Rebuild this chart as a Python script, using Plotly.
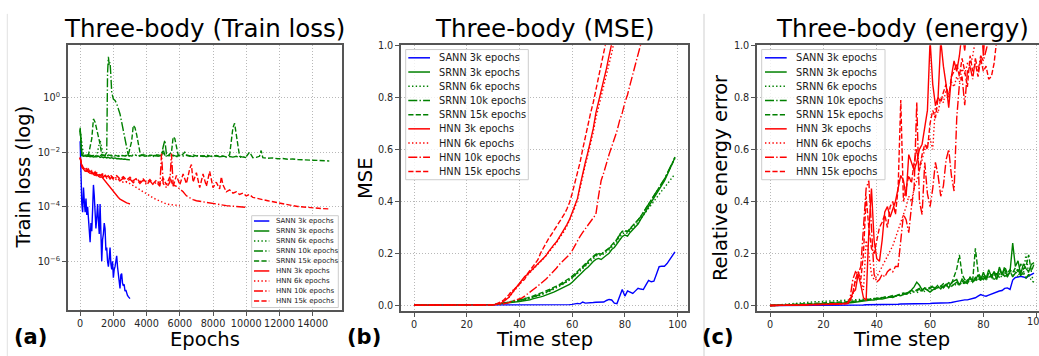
import plotly.graph_objects as go

W, H = 1039, 356
FONT = "DejaVu Sans"

# ---------------------------------------------------------------------------
# Series styling (shared by the three panels)
# ---------------------------------------------------------------------------
LABELS = ["SANN 3k epochs", "SRNN 3k epochs", "SRNN 6k epochs", "SRNN 10k epochs",
          "SRNN 15k epochs", "HNN 3k epochs", "HNN 6k epochs", "HNN 10k epochs",
          "HNN 15k epochs"]
COLORS = ["#0000ff", "#008000", "#008000", "#008000", "#008000",
          "#ff0000", "#ff0000", "#ff0000", "#ff0000"]
DASHES = ["solid", "solid", "1.4px,2.3px", "9px,2.2px,1.4px,2.2px", "5.2px,2.2px",
          "solid", "1.4px,2.3px", "9px,2.2px,1.4px,2.2px", "5.2px,2.2px"]
LW = 1.4

# ---------------------------------------------------------------------------
# (a) training loss: (epoch, log10 of loss)
# ---------------------------------------------------------------------------
SANN_3K = [(0, -1.6), (50, -3.0), (100, -3.9), (150, -4.2), (200, -3.3), (250, -3.8),
           (300, -4.2), (350, -3.7), (400, -4.3), (450, -4.0), (500, -4.6), (550, -5.0),
           (600, -5.3), (650, -4.6), (700, -4.9), (750, -4.1), (800, -3.2), (850, -3.6),
           (900, -4.5), (950, -4.8), (1000, -4.4), (1050, -3.9), (1100, -4.5), (1150, -5.0),
           (1200, -3.9), (1250, -5.0), (1300, -6.0), (1350, -5.2), (1400, -5.0), (1450, -4.6),
           (1500, -4.8), (1550, -5.6), (1600, -5.5), (1650, -6.0), (1700, -6.2), (1750, -5.9),
           (1800, -5.5), (1850, -6.1), (1900, -6.3), (1950, -6.0), (2000, -6.6), (2050, -6.3),
           (2100, -6.2), (2150, -6.0), (2200, -5.8), (2250, -6.2), (2300, -6.5), (2350, -6.7),
           (2400, -7.0), (2450, -6.5), (2500, -6.45), (2550, -6.8), (2600, -6.9), (2650, -6.85),
           (2700, -7.1), (2750, -7.05), (2800, -7.2), (2850, -7.25), (2900, -7.3), (2950, -7.32),
           (3000, -7.37)]

SRNN_3K = [(0, -1.1), (100, -2.12), (200, -2.15), (300, -2.13), (400, -2.16), (500, -2.14),
           (600, -2.17), (700, -2.15), (800, -2.18), (900, -2.16), (1000, -2.17), (1100, -2.14),
           (1200, -2.19), (1300, -2.17), (1400, -2.2), (1500, -2.18), (1600, -2.21), (1700, -2.19),
           (1800, -2.22), (1900, -2.2), (2000, -2.23), (2100, -2.21), (2200, -2.24), (2300, -2.23),
           (2400, -2.25), (2500, -2.24), (2600, -2.26), (2700, -2.25), (2800, -2.27), (2900, -2.27),
           (3000, -2.28)]

SRNN_6K = [(0, -1.2), (200, -2.1), (400, -2.13), (600, -2.1), (800, -2.15), (1000, -2.12),
           (1200, -1.55), (1400, -2.12), (1600, -2.14), (1800, -2.1), (2000, -2.13), (2200, -2.15),
           (2400, -2.11), (2600, -2.14), (2800, -2.12), (3000, -2.15), (3200, -2.1), (3400, -2.13),
           (3600, -2.15), (3800, -2.08), (4000, -2.14), (4200, -2.12), (4400, -2.16), (4600, -2.1),
           (4800, -2.14), (5000, -2.05), (5200, -2.15), (5400, -2.12), (5600, -2.14), (5800, -2.16),
           (6000, -2.15)]

SRNN_10K = [(0, -1.15), (100, -2.1), (300, -2.12), (500, -2.1), (700, -2.13), (900, -2.11),
            (1100, -2.14), (1300, -2.1), (1500, -2.12), (1600, -2.0), (1650, 0.9), (1700, 1.5),
            (1750, 1.2), (1800, 1.3), (1850, 0.8), (1900, 0.2), (2000, -0.05), (2100, -0.1),
            (2200, -0.22), (2300, -0.4), (2400, -0.6), (2500, -0.9), (2600, -1.2), (2700, -1.55),
            (2800, -1.9), (2900, -2.12), (3100, -2.14), (3300, -2.1), (3500, -2.13), (3700, -2.11),
            (3900, -2.15), (4100, -2.1), (4300, -2.13), (4500, -2.12), (4700, -2.15), (4900, -2.1),
            (5000, -1.8), (5100, -1.56), (5200, -2.1), (5400, -2.13), (5600, -2.11), (5800, -2.15),
            (6000, -2.12), (6200, -2.14), (6400, -2.1), (6600, -2.13), (6800, -2.16), (7000, -2.12),
            (7200, -2.15), (7400, -2.13), (7600, -2.17), (7800, -2.14), (8000, -2.16), (8200, -2.13),
            (8400, -2.17), (8600, -2.15), (8800, -2.18), (9000, -2.16), (9200, -2.18), (9400, -2.15),
            (9600, -2.19), (9800, -2.17), (10000, -2.2)]

SRNN_15K = [(0, -1.2), (100, -2.1), (300, -2.12), (500, -2.1), (700, -1.5), (800, -0.78),
            (900, -0.9), (1000, -1.15), (1100, -1.4), (1200, -1.7), (1300, -2.1), (1500, -2.13),
            (1700, -2.1), (1900, -2.14), (2100, -2.11), (2300, -2.15), (2500, -2.12), (2700, -2.14),
            (2900, -2.1), (3100, -1.6), (3200, -1.02), (3300, -1.1), (3400, -1.35), (3500, -1.7),
            (3600, -2.0), (3700, -2.12), (3900, -2.1), (4100, -2.14), (4300, -2.11), (4500, -2.13),
            (4700, -2.1), (4900, -2.14), (5000, -1.9), (5100, -2.12), (5300, -2.13), (5500, -2.0),
            (5600, -1.44), (5700, -1.5), (5800, -1.8), (5900, -2.1), (6100, -2.13), (6300, -2.0),
            (6400, -2.12), (6600, -2.15), (6800, -2.1), (7000, -2.14), (7200, -2.12), (7400, -2.16),
            (7600, -2.1), (7800, -2.14), (8000, -2.15), (8200, -2.12), (8400, -2.16), (8600, -2.14),
            (8800, -2.17), (9000, -2.1), (9100, -1.6), (9200, -1.1), (9300, -0.94), (9400, -1.3),
            (9500, -1.8), (9600, -2.15), (9800, -2.18), (10000, -2.16), (10200, -2.0), (10400, -2.2),
            (10600, -2.19), (10800, -2.15), (10900, -1.94), (11000, -2.2), (11300, -2.22),
            (11600, -2.21), (11900, -2.24), (12200, -2.23), (12500, -2.26), (12800, -2.25),
            (13100, -2.27), (13400, -2.28), (13700, -2.29), (14000, -2.3), (14300, -2.3),
            (14600, -2.31), (15000, -2.32)]

HNN_3K = [(0, -2.2), (50, -2.5), (100, -2.55), (200, -2.62), (300, -2.7), (400, -2.68),
          (500, -2.75), (600, -2.78), (700, -2.74), (800, -2.82), (900, -2.85), (1000, -2.8),
          (1100, -2.88), (1200, -2.92), (1300, -2.9), (1400, -2.98), (1500, -3.05), (1600, -3.12),
          (1700, -3.22), (1800, -3.3), (1900, -3.38), (2000, -3.46), (2100, -3.54), (2200, -3.6),
          (2300, -3.66), (2400, -3.72), (2500, -3.76), (2600, -3.8), (2700, -3.83), (2800, -3.86),
          (2900, -3.88), (3000, -3.9)]

HNN_6K = [(0, -2.2), (100, -2.55), (200, -2.6), (400, -2.72), (600, -2.7), (800, -2.8),
          (1000, -2.78), (1200, -2.86), (1400, -2.84), (1600, -2.92), (1800, -2.9), (2000, -2.98),
          (2200, -3.0), (2400, -3.05), (2600, -3.1), (2800, -3.08), (3000, -3.15), (3200, -3.25),
          (3400, -3.3), (3600, -3.38), (3800, -3.45), (4000, -3.52), (4200, -3.6), (4400, -3.68),
          (4600, -3.74), (4800, -3.8), (5000, -3.85), (5200, -3.9), (5400, -3.92), (5600, -3.94),
          (5800, -3.95), (6000, -3.96)]

HNN_10K = [(0, -2.2), (100, -2.5), (200, -2.6), (300, -2.55), (400, -2.7), (500, -2.62),
           (600, -2.75), (700, -2.68), (800, -2.8), (900, -2.72), (1000, -2.85), (1100, -2.78),
           (1200, -2.9), (1300, -2.8), (1400, -2.92), (1500, -2.85), (1600, -2.95), (1700, -2.88),
           (1800, -2.98), (1900, -2.9), (2000, -3.0), (2200, -2.92), (2400, -3.05), (2600, -2.95),
           (2800, -3.1), (3000, -2.98), (3200, -3.12), (3400, -3.0), (3600, -3.15), (3800, -3.02),
           (4000, -3.2), (4200, -3.05), (4400, -3.2), (4600, -3.1), (4800, -3.25), (4900, -2.05),
           (5000, -3.15), (5200, -3.3), (5400, -3.1), (5500, -2.05), (5600, -3.2), (5800, -3.25),
           (6000, -3.35), (6200, -3.45), (6400, -3.6), (6600, -3.68), (6800, -3.74), (7000, -3.78),
           (7200, -3.8), (7600, -3.85), (8000, -3.9), (8400, -3.93), (8800, -3.96), (9200, -3.98),
           (9600, -4.0), (10000, -4.02)]

HNN_15K = [(0, -2.2), (100, -2.45), (200, -2.58), (300, -2.65), (400, -2.6), (500, -2.72),
           (600, -2.66), (700, -2.78), (800, -2.7), (900, -2.82), (1000, -2.75), (1200, -2.85),
           (1400, -2.78), (1600, -2.9), (1800, -2.82), (2000, -2.95), (2200, -2.86), (2400, -2.98),
           (2600, -2.9), (2800, -3.02), (3000, -2.92), (3200, -3.05), (3400, -2.95), (3600, -3.1),
           (3800, -2.98), (4000, -3.12), (4200, -3.0), (4400, -3.15), (4600, -3.02), (4800, -3.18),
           (5000, -2.95), (5200, -3.2), (5400, -2.9), (5600, -3.25), (5800, -2.85), (6000, -3.2),
           (6200, -2.8), (6400, -3.15), (6600, -2.6), (6700, -2.45), (6800, -3.1), (7000, -2.75),
           (7200, -3.3), (7400, -2.8), (7600, -3.25), (7800, -2.7), (8000, -3.3), (8200, -3.1),
           (8400, -3.35), (8500, -2.9), (8600, -3.2), (8800, -3.45), (9000, -3.38), (9200, -3.5),
           (9400, -3.45), (9600, -3.55), (9800, -3.5), (10000, -3.6), (10200, -3.55),
           (10400, -3.66), (10600, -3.68), (10800, -3.72), (11000, -3.74), (11300, -3.78),
           (11600, -3.82), (11900, -3.85), (12200, -3.88), (12500, -3.92), (12800, -3.96),
           (13100, -3.99), (13400, -4.01), (13700, -4.03), (14000, -4.05), (14300, -4.06),
           (14600, -4.07), (15000, -4.08)]

LOSS_SERIES = [SANN_3K, SRNN_3K, SRNN_6K, SRNN_10K, SRNN_15K, HNN_3K, HNN_6K, HNN_10K, HNN_15K]

# ---------------------------------------------------------------------------
# (b) MSE per time step (index = time step)
# ---------------------------------------------------------------------------
SANN_3K_MSE = [
    0.0, 0.0, 0.0, 0.0, 0.0, 0.0, 0.0, 0.0, 0.0, 0.0,
    0.0, 0.0, 0.0, 0.0, 0.0, 0.0, 0.0, 0.0, 0.0, 0.0,
    0.0, 0.0, 0.0, 0.0, 0.0, 0.0, 0.0, 0.0, 0.0, 0.0,
    0.0, 0.0, 0.0, 0.0, 0.0, 0.0, 0.0, 0.0, 0.0, 0.0,
    0.0, 0.0, 0.0, 0.0, 0.0, 0.0, 0.0, 0.0, 0.0, 0.0,
    0.0, 0.0, 0.0, 0.0, 0.0, 0.0, 0.001, 0.001, 0.002, 0.002,
    0.003, 0.005, 0.007, 0.005, 0.012, 0.008, 0.008, 0.009, 0.010, 0.011,
    0.012, 0.012, 0.012, 0.018, 0.022, 0.020, 0.008, 0.006, 0.030, 0.060,
    0.035, 0.055, 0.050, 0.045, 0.055, 0.065, 0.062, 0.060, 0.078, 0.095,
    0.090, 0.092, 0.120, 0.148, 0.150, 0.150, 0.160, 0.175, 0.190, 0.205]

SRNN_3K_MSE = [
    0.0, 0.0, 0.0, 0.0, 0.0, 0.0, 0.0, 0.0, 0.0, 0.0,
    0.0, 0.0, 0.0, 0.0, 0.0, 0.0, 0.0, 0.0, 0.0, 0.0,
    0.0, 0.0, 0.0, 0.0, 0.0, 0.0, 0.0, 0.0, 0.001, 0.001,
    0.002, 0.003, 0.004, 0.005, 0.006, 0.007, 0.008, 0.010, 0.011, 0.012,
    0.014, 0.016, 0.017, 0.019, 0.021, 0.024, 0.026, 0.029, 0.032, 0.035,
    0.038, 0.042, 0.046, 0.050, 0.055, 0.060, 0.064, 0.070, 0.076, 0.080,
    0.088, 0.100, 0.108, 0.118, 0.130, 0.138, 0.146, 0.158, 0.168, 0.176,
    0.180, 0.176, 0.186, 0.192, 0.200, 0.214, 0.222, 0.236, 0.254, 0.264,
    0.270, 0.266, 0.280, 0.292, 0.300, 0.312, 0.330, 0.346, 0.362, 0.380,
    0.396, 0.412, 0.428, 0.444, 0.460, 0.478, 0.500, 0.520, 0.545, 0.568]

SRNN_6K_MSE = [
    0.0, 0.0, 0.0, 0.0, 0.0, 0.0, 0.0, 0.0, 0.0, 0.0,
    0.0, 0.0, 0.0, 0.0, 0.0, 0.0, 0.0, 0.0, 0.0, 0.0,
    0.0, 0.0, 0.0, 0.0, 0.0, 0.0, 0.0, 0.0, 0.001, 0.001,
    0.002, 0.003, 0.005, 0.006, 0.007, 0.009, 0.010, 0.012, 0.013, 0.015,
    0.017, 0.019, 0.021, 0.023, 0.026, 0.029, 0.032, 0.035, 0.039, 0.043,
    0.047, 0.051, 0.056, 0.061, 0.066, 0.071, 0.077, 0.083, 0.090, 0.097,
    0.104, 0.112, 0.122, 0.132, 0.142, 0.150, 0.160, 0.170, 0.180, 0.188,
    0.194, 0.190, 0.198, 0.204, 0.212, 0.222, 0.232, 0.244, 0.262, 0.274,
    0.280, 0.276, 0.288, 0.298, 0.306, 0.318, 0.332, 0.346, 0.360, 0.374,
    0.388, 0.400, 0.414, 0.428, 0.440, 0.452, 0.466, 0.480, 0.492, 0.505]

SRNN_10K_MSE = [
    0.0, 0.0, 0.0, 0.0, 0.0, 0.0, 0.0, 0.0, 0.0, 0.0,
    0.0, 0.0, 0.0, 0.0, 0.0, 0.0, 0.0, 0.0, 0.0, 0.0,
    0.0, 0.0, 0.0, 0.0, 0.0, 0.0, 0.0, 0.0, 0.001, 0.001,
    0.002, 0.003, 0.004, 0.006, 0.007, 0.009, 0.011, 0.013, 0.015, 0.016,
    0.018, 0.020, 0.022, 0.025, 0.028, 0.031, 0.034, 0.037, 0.041, 0.045,
    0.049, 0.054, 0.058, 0.063, 0.068, 0.074, 0.080, 0.086, 0.092, 0.098,
    0.106, 0.116, 0.126, 0.136, 0.146, 0.156, 0.166, 0.176, 0.186, 0.194,
    0.198, 0.194, 0.204, 0.210, 0.218, 0.228, 0.238, 0.252, 0.270, 0.282,
    0.286, 0.282, 0.294, 0.304, 0.314, 0.326, 0.340, 0.356, 0.372, 0.390,
    0.406, 0.422, 0.436, 0.452, 0.468, 0.486, 0.506, 0.526, 0.548, 0.570]

SRNN_15K_MSE = [
    0.0, 0.0, 0.0, 0.0, 0.0, 0.0, 0.0, 0.0, 0.0, 0.0,
    0.0, 0.0, 0.0, 0.0, 0.0, 0.0, 0.0, 0.0, 0.0, 0.0,
    0.0, 0.0, 0.0, 0.0, 0.0, 0.0, 0.0, 0.0, 0.001, 0.001,
    0.002, 0.004, 0.005, 0.007, 0.008, 0.010, 0.012, 0.014, 0.016, 0.018,
    0.020, 0.022, 0.025, 0.028, 0.031, 0.034, 0.038, 0.042, 0.046, 0.050,
    0.054, 0.058, 0.063, 0.068, 0.073, 0.078, 0.084, 0.090, 0.096, 0.104,
    0.112, 0.120, 0.130, 0.140, 0.150, 0.160, 0.168, 0.178, 0.188, 0.196,
    0.200, 0.196, 0.206, 0.212, 0.220, 0.230, 0.240, 0.254, 0.272, 0.284,
    0.288, 0.284, 0.296, 0.306, 0.316, 0.328, 0.342, 0.358, 0.374, 0.390,
    0.404, 0.420, 0.436, 0.450, 0.466, 0.484, 0.504, 0.524, 0.546, 0.565]

HNN_3K_MSE = [
    0.0, 0.0, 0.0, 0.0, 0.0, 0.0, 0.0, 0.0, 0.0, 0.0,
    0.0, 0.0, 0.0, 0.0, 0.0, 0.0, 0.0, 0.0, 0.0, 0.0,
    0.0, 0.0, 0.0, 0.0, 0.0, 0.0, 0.0, 0.0, 0.0, 0.0,
    0.001, 0.003, 0.005, 0.008, 0.014, 0.022, 0.030, 0.045, 0.058, 0.070,
    0.080, 0.095, 0.110, 0.118, 0.128, 0.140, 0.150, 0.160, 0.170, 0.180,
    0.190, 0.205, 0.220, 0.232, 0.243, 0.260, 0.275, 0.290, 0.310, 0.330,
    0.355, 0.380, 0.410, 0.460, 0.510, 0.550, 0.590, 0.630, 0.680, 0.740,
    0.780, 0.820, 0.870, 0.910, 0.960, 1.010, 1.060, 1.100]

HNN_6K_MSE = [
    0.0, 0.0, 0.0, 0.0, 0.0, 0.0, 0.0, 0.0, 0.0, 0.0,
    0.0, 0.0, 0.0, 0.0, 0.0, 0.0, 0.0, 0.0, 0.0, 0.0,
    0.0, 0.0, 0.0, 0.0, 0.0, 0.0, 0.0, 0.0, 0.0, 0.0,
    0.001, 0.003, 0.005, 0.009, 0.015, 0.022, 0.030, 0.042, 0.055, 0.068,
    0.078, 0.092, 0.106, 0.115, 0.125, 0.137, 0.148, 0.158, 0.168, 0.178,
    0.190, 0.202, 0.215, 0.228, 0.240, 0.256, 0.270, 0.285, 0.305, 0.325,
    0.350, 0.375, 0.405, 0.450, 0.500, 0.540, 0.580, 0.620, 0.665, 0.720,
    0.760, 0.800, 0.850, 0.890, 0.930, 0.970, 1.020, 1.070, 1.120]

HNN_10K_MSE = [
    0.0, 0.0, 0.0, 0.0, 0.0, 0.0, 0.0, 0.0, 0.0, 0.0,
    0.0, 0.0, 0.0, 0.0, 0.0, 0.0, 0.0, 0.0, 0.0, 0.0,
    0.0, 0.0, 0.0, 0.0, 0.0, 0.0, 0.0, 0.0, 0.0, 0.0,
    0.0, 0.001, 0.002, 0.003, 0.005, 0.007, 0.010, 0.015, 0.018, 0.020,
    0.024, 0.028, 0.035, 0.042, 0.050, 0.058, 0.066, 0.074, 0.082, 0.090,
    0.100, 0.110, 0.120, 0.130, 0.142, 0.155, 0.165, 0.175, 0.185, 0.195,
    0.210, 0.230, 0.250, 0.265, 0.280, 0.295, 0.310, 0.325, 0.340, 0.350,
    0.420, 0.480, 0.510, 0.550, 0.580, 0.610, 0.640, 0.670, 0.710, 0.740,
    0.780, 0.810, 0.850, 0.890, 0.930, 0.970, 1.000, 1.040, 1.080]

HNN_15K_MSE = [
    0.0, 0.0, 0.0, 0.0, 0.0, 0.0, 0.0, 0.0, 0.0, 0.0,
    0.0, 0.0, 0.0, 0.0, 0.0, 0.0, 0.0, 0.0, 0.0, 0.0,
    0.0, 0.0, 0.0, 0.0, 0.0, 0.0, 0.0, 0.0, 0.0, 0.0,
    0.002, 0.004, 0.008, 0.013, 0.020, 0.030, 0.040, 0.055, 0.060, 0.072,
    0.082, 0.090, 0.100, 0.120, 0.135, 0.150, 0.160, 0.175, 0.200, 0.220,
    0.240, 0.255, 0.270, 0.285, 0.300, 0.315, 0.330, 0.350, 0.370, 0.395,
    0.430, 0.470, 0.500, 0.550, 0.600, 0.650, 0.690, 0.740, 0.780, 0.830,
    0.880, 0.920, 0.970, 1.020, 1.070]

MSE_SERIES = [SANN_3K_MSE, SRNN_3K_MSE, SRNN_6K_MSE, SRNN_10K_MSE, SRNN_15K_MSE,
              HNN_3K_MSE, HNN_6K_MSE, HNN_10K_MSE, HNN_15K_MSE]

# ---------------------------------------------------------------------------
# (c) relative energy error per time step
# ---------------------------------------------------------------------------
SANN_3K_ENERGY = [
    0.0, 0.0, 0.0, 0.0, 0.0, 0.0, 0.0, 0.0, 0.0, 0.0,
    0.0, 0.0, 0.0, 0.0, 0.0, 0.0, 0.0, 0.0, 0.0, 0.0,
    0.001, 0.001, 0.001, 0.001, 0.001, 0.001, 0.001, 0.001, 0.001, 0.001,
    0.001, 0.001, 0.002, 0.002, 0.002, 0.002, 0.003, 0.003, 0.003, 0.003,
    0.003, 0.004, 0.004, 0.004, 0.004, 0.005, 0.005, 0.005, 0.005, 0.006,
    0.006, 0.006, 0.006, 0.007, 0.007, 0.007, 0.007, 0.008, 0.008, 0.008,
    0.008, 0.009, 0.009, 0.009, 0.010, 0.010, 0.011, 0.011, 0.012, 0.013,
    0.016, 0.018, 0.021, 0.022, 0.022, 0.024, 0.026, 0.030, 0.036, 0.042,
    0.038, 0.036, 0.040, 0.044, 0.050, 0.052, 0.056, 0.058, 0.066, 0.068,
    0.062, 0.098, 0.108, 0.110, 0.112, 0.110, 0.106, 0.114, 0.120, 0.125]

SRNN_3K_ENERGY = [
    0.000, 0.000, 0.001, 0.001, 0.001, 0.002, 0.002, 0.002, 0.003, 0.003,
    0.003, 0.004, 0.004, 0.004, 0.005, 0.005, 0.005, 0.006, 0.006, 0.006,
    0.007, 0.007, 0.007, 0.008, 0.008, 0.008, 0.009, 0.009, 0.010, 0.010,
    0.011, 0.012, 0.013, 0.014, 0.016, 0.018, 0.017, 0.020, 0.022, 0.021,
    0.024, 0.026, 0.025, 0.028, 0.030, 0.033, 0.031, 0.036, 0.040, 0.038,
    0.044, 0.048, 0.052, 0.060, 0.072, 0.090, 0.078, 0.060, 0.066, 0.058,
    0.052, 0.060, 0.064, 0.070, 0.066, 0.075, 0.082, 0.068, 0.088, 0.095,
    0.100, 0.078, 0.102, 0.090, 0.085, 0.110, 0.092, 0.098, 0.118, 0.096,
    0.128, 0.102, 0.138, 0.112, 0.130, 0.100, 0.148, 0.120, 0.140, 0.110,
    0.130, 0.240, 0.150, 0.172, 0.120, 0.160, 0.142, 0.130, 0.158, 0.165]

SRNN_6K_ENERGY = [
    0.000, 0.001, 0.002, 0.003, 0.004, 0.005, 0.006, 0.007, 0.008, 0.009,
    0.010, 0.011, 0.011, 0.012, 0.013, 0.013, 0.014, 0.015, 0.015, 0.016,
    0.016, 0.017, 0.017, 0.018, 0.018, 0.019, 0.019, 0.020, 0.020, 0.021,
    0.021, 0.022, 0.022, 0.023, 0.023, 0.024, 0.025, 0.025, 0.026, 0.027,
    0.028, 0.030, 0.029, 0.032, 0.034, 0.033, 0.036, 0.038, 0.037, 0.040,
    0.042, 0.045, 0.044, 0.048, 0.052, 0.050, 0.055, 0.058, 0.054, 0.060,
    0.062, 0.058, 0.066, 0.070, 0.064, 0.072, 0.078, 0.070, 0.080, 0.074,
    0.085, 0.078, 0.090, 0.082, 0.095, 0.088, 0.100, 0.092, 0.104, 0.096,
    0.108, 0.098, 0.112, 0.104, 0.118, 0.100, 0.122, 0.108, 0.126, 0.112,
    0.130, 0.115, 0.135, 0.110, 0.140, 0.118, 0.200, 0.120, 0.110, 0.102]

SRNN_10K_ENERGY = [
    0.000, 0.000, 0.001, 0.001, 0.002, 0.002, 0.002, 0.003, 0.003, 0.004,
    0.004, 0.004, 0.005, 0.005, 0.005, 0.006, 0.006, 0.007, 0.007, 0.007,
    0.008, 0.008, 0.009, 0.009, 0.009, 0.010, 0.010, 0.011, 0.011, 0.012,
    0.013, 0.014, 0.015, 0.016, 0.018, 0.020, 0.022, 0.021, 0.024, 0.026,
    0.025, 0.028, 0.030, 0.029, 0.033, 0.035, 0.034, 0.038, 0.040, 0.042,
    0.045, 0.043, 0.050, 0.055, 0.052, 0.058, 0.062, 0.056, 0.064, 0.060,
    0.066, 0.072, 0.064, 0.070, 0.078, 0.068, 0.080, 0.086, 0.074, 0.082,
    0.090, 0.080, 0.094, 0.086, 0.098, 0.104, 0.090, 0.108, 0.096, 0.112,
    0.100, 0.116, 0.104, 0.120, 0.096, 0.124, 0.108, 0.128, 0.112, 0.118,
    0.132, 0.110, 0.125, 0.140, 0.115, 0.130, 0.105, 0.120, 0.095, 0.090]

SRNN_15K_ENERGY = [
    0.000, 0.001, 0.001, 0.002, 0.002, 0.003, 0.003, 0.004, 0.004, 0.005,
    0.005, 0.006, 0.006, 0.007, 0.007, 0.008, 0.008, 0.009, 0.009, 0.010,
    0.010, 0.011, 0.011, 0.012, 0.012, 0.013, 0.013, 0.014, 0.014, 0.015,
    0.015, 0.016, 0.017, 0.018, 0.020, 0.019, 0.022, 0.024, 0.023, 0.026,
    0.028, 0.027, 0.031, 0.033, 0.032, 0.036, 0.039, 0.037, 0.042, 0.045,
    0.048, 0.046, 0.052, 0.058, 0.055, 0.062, 0.066, 0.060, 0.068, 0.064,
    0.070, 0.076, 0.068, 0.080, 0.074, 0.084, 0.078, 0.088, 0.082, 0.110,
    0.140, 0.195, 0.120, 0.100, 0.092, 0.108, 0.098, 0.220, 0.130, 0.104,
    0.112, 0.100, 0.124, 0.108, 0.130, 0.114, 0.140, 0.118, 0.150, 0.124,
    0.138, 0.126, 0.145, 0.130, 0.160, 0.140, 0.150, 0.195, 0.130, 0.160]

HNN_3K_ENERGY = [
    0.000, 0.000, 0.000, 0.000, 0.001, 0.001, 0.001, 0.001, 0.001, 0.002,
    0.002, 0.002, 0.002, 0.002, 0.003, 0.003, 0.003, 0.003, 0.003, 0.004,
    0.004, 0.004, 0.004, 0.005, 0.005, 0.005, 0.006, 0.006, 0.007, 0.008,
    0.020, 0.050, 0.060, 0.120, 0.080, 0.030, 0.020, 0.280, 0.450, 0.250,
    0.180, 0.170, 0.250, 0.360, 0.380, 0.340, 0.370, 0.400, 0.450, 0.500,
    0.480, 0.420, 0.580, 0.550, 0.520, 0.550, 0.600, 0.620, 0.680, 0.750,
    1.020, 0.850, 0.770, 0.800, 1.020, 0.920, 0.850, 0.760, 0.880, 0.940,
    0.900, 0.960, 1.050, 0.980, 1.080, 1.100, 1.150, 1.050, 1.200, 1.120,
    0.960, 1.150, 1.250, 1.200, 1.300]

HNN_6K_ENERGY = [
    0.000, 0.000, 0.000, 0.001, 0.001, 0.001, 0.001, 0.002, 0.002, 0.002,
    0.002, 0.002, 0.003, 0.003, 0.003, 0.003, 0.004, 0.004, 0.004, 0.004,
    0.005, 0.005, 0.005, 0.006, 0.006, 0.006, 0.007, 0.007, 0.008, 0.009,
    0.015, 0.040, 0.100, 0.130, 0.090, 0.060, 0.250, 0.200, 0.120, 0.100,
    0.110, 0.130, 0.150, 0.170, 0.190, 0.210, 0.230, 0.260, 0.290, 0.320,
    0.350, 0.380, 0.420, 0.400, 0.450, 0.480, 0.520, 0.560, 0.600, 0.620,
    0.640, 0.600, 0.770, 0.740, 0.800, 0.780, 0.830, 0.810, 0.860, 0.840,
    0.880, 0.860, 0.910, 0.890, 0.930, 0.920, 0.960, 1.020, 1.060, 1.100,
    1.080, 1.150, 1.200]

HNN_10K_ENERGY = [
    0.000, 0.000, 0.000, 0.000, 0.001, 0.001, 0.001, 0.001, 0.002, 0.002,
    0.002, 0.002, 0.002, 0.003, 0.003, 0.003, 0.003, 0.004, 0.004, 0.004,
    0.004, 0.005, 0.005, 0.005, 0.006, 0.006, 0.006, 0.007, 0.008, 0.009,
    0.030, 0.100, 0.130, 0.120, 0.150, 0.300, 0.450, 0.480, 0.300, 0.120,
    0.090, 0.100, 0.120, 0.110, 0.130, 0.140, 0.130, 0.150, 0.150, 0.250,
    0.350, 0.330, 0.280, 0.380, 0.450, 0.780, 0.400, 0.350, 0.550, 0.430,
    0.380, 0.450, 0.550, 0.500, 0.420, 0.460, 0.560, 0.600, 0.500, 0.440,
    0.720, 0.850, 0.880, 0.770, 0.900, 0.920, 0.870, 0.950, 0.900, 0.960,
    0.940, 0.980, 1.020, 1.060, 1.100, 1.150]

HNN_15K_ENERGY = [
    0.000, 0.000, 0.000, 0.001, 0.001, 0.001, 0.001, 0.002, 0.002, 0.002,
    0.002, 0.003, 0.003, 0.003, 0.003, 0.004, 0.004, 0.004, 0.004, 0.005,
    0.005, 0.005, 0.006, 0.006, 0.006, 0.007, 0.007, 0.008, 0.008, 0.009,
    0.020, 0.050, 0.100, 0.130, 0.100, 0.200, 0.420, 0.300, 0.220, 0.200,
    0.250, 0.300, 0.320, 0.350, 0.300, 0.380, 0.400, 0.350, 0.450, 0.790,
    0.400, 0.450, 0.500, 0.470, 0.550, 0.600, 0.520, 0.580, 0.620, 0.600,
    0.700, 0.750, 0.720, 0.800, 0.780, 0.820, 0.850, 0.800, 0.880, 0.900,
    0.930, 0.880, 0.950, 0.900, 0.840, 0.960, 0.900, 0.930, 0.880, 0.950,
    0.900, 0.920, 0.870, 0.880, 0.930, 1.020, 1.100, 1.150, 1.120, 1.200]

ENERGY_SERIES = [SANN_3K_ENERGY, SRNN_3K_ENERGY, SRNN_6K_ENERGY, SRNN_10K_ENERGY,
                 SRNN_15K_ENERGY, HNN_3K_ENERGY, HNN_6K_ENERGY, HNN_10K_ENERGY,
                 HNN_15K_ENERGY]

LOSS_TICKS = [1e-6, 1e-4, 1e-2, 1e0]
LOSS_TICK_TEXT = ["10<sup>\u22126</sup>", "10<sup>\u22124</sup>", "10<sup>\u22122</sup>",
                  "10<sup>0</sup>"]
EPOCH_TICKS = [0, 2000, 4000, 6000, 8000, 10000, 12000, 14000]
EPOCH_TICK_TEXT = ["0", "2000", "4000", "6000", "8000", "10000", "12000", "14000"]
STEP_TICKS = [0, 20, 40, 60, 80, 100]
STEP_TICK_TEXT = ["0", "20", "40", "60", "80", "100"]
UNIT_TICKS = [0.0, 0.2, 0.4, 0.6, 0.8, 1.0]
UNIT_TICK_TEXT = ["0.0", "0.2", "0.4", "0.6", "0.8", "1.0"]

TICK_FONT = dict(family=FONT, size=9.7, color="#262626")


def px(x):
    return x / W


def py(y):
    return 1 - y / H


fig = go.Figure()

for pts, color, dash in zip(LOSS_SERIES, COLORS, DASHES):
    fig.add_trace(go.Scatter(
        x=[p[0] for p in pts], y=[10 ** p[1] for p in pts], mode="lines",
        line=dict(color=color, width=LW, dash=dash), xaxis="x", yaxis="y",
        showlegend=False, hoverinfo="skip"))

for vals, color, dash in zip(MSE_SERIES, COLORS, DASHES):
    fig.add_trace(go.Scatter(
        x=list(range(len(vals))), y=vals, mode="lines",
        line=dict(color=color, width=LW, dash=dash), xaxis="x2", yaxis="y2",
        showlegend=False, hoverinfo="skip"))

for vals, color, dash in zip(ENERGY_SERIES, COLORS, DASHES):
    fig.add_trace(go.Scatter(
        x=list(range(len(vals))), y=vals, mode="lines",
        line=dict(color=color, width=LW, dash=dash), xaxis="x3", yaxis="y3",
        showlegend=False, hoverinfo="skip"))

axis_style = dict(
    showline=True, linecolor="#555555", linewidth=1.5, ticks="outside", ticklen=4,
    tickwidth=1, tickcolor="#555555", showgrid=True, gridcolor="#b8b8b8",
    griddash="1px,2px", gridwidth=1, zeroline=False, tickfont=TICK_FONT,
)

fig.update_layout(
    width=W, height=H, margin=dict(l=0, r=0, t=0, b=0),
    paper_bgcolor="white", plot_bgcolor="white", showlegend=False,
    xaxis=dict(domain=[px(67.7), px(341.7)], anchor="y", range=[-750, 15750],
               tickvals=EPOCH_TICKS, ticktext=EPOCH_TICK_TEXT, mirror=True, **axis_style),
    yaxis=dict(domain=[py(309), py(40)], anchor="x", type="log", range=[-7.78, 1.92],
               tickvals=LOSS_TICKS, ticktext=LOSS_TICK_TEXT, mirror=True, **axis_style),
    xaxis2=dict(domain=[px(401), px(688)], anchor="y2", range=[-4.95, 103.95],
                tickvals=STEP_TICKS, ticktext=STEP_TICK_TEXT, mirror=True, **axis_style),
    yaxis2=dict(domain=[py(310), py(40)], anchor="x2", range=[-0.0216, 1.0],
                tickvals=UNIT_TICKS, ticktext=UNIT_TICK_TEXT, mirror=True, **axis_style),
    xaxis3=dict(domain=[px(757), 1.0], anchor="y3", range=[-4.95, 100.87],
                tickvals=STEP_TICKS, ticktext=STEP_TICK_TEXT, mirror=True, **axis_style),
    yaxis3=dict(domain=[py(310), py(40)], anchor="x3", range=[-0.02, 1.0],
                tickvals=UNIT_TICKS, ticktext=UNIT_TICK_TEXT, mirror=False, **axis_style),
)

shapes = []
annotations = []


def text(x, y, s, size, angle=0, bold=False, anchor="center"):
    annotations.append(dict(
        x=px(x), y=py(y), xref="paper", yref="paper", text=f"<b>{s}</b>" if bold else s,
        showarrow=False, xanchor=anchor, yanchor="middle", textangle=angle,
        font=dict(family=FONT, size=size, color="black")))


# panel titles, axis titles and panel letters
text(204.7, 23, "Three-body (Train loss)", 24.5)
text(544.5, 23, "Three-body (MSE)", 24.5)
text(902, 23, "Three-body (energy)", 24.5)
text(204.7, 339, "Epochs", 19.5)
text(544.5, 339, "Time step", 19.5)
text(901, 339, "Time step", 19.5)
text(24, 174.5, "Train loss (log)", 19.5, angle=-90)
text(365, 175, "MSE", 19.5, angle=-90)
text(720, 175, "Relative energy error", 19.5, angle=-90)
text(30, 337, "(a)", 21, bold=True)
text(364, 337, "(b)", 21, bold=True)
text(718, 337, "(c)", 21, bold=True)

# last step label of panel (c) runs past the right edge of the figure
annotations.append(dict(
    x=STEP_TICKS[-1], y=py(320.5), xref="x3", yref="paper", text=STEP_TICK_TEXT[-1],
    showarrow=False, xanchor="center", yanchor="middle", font=TICK_FONT))

# thin separators between the panels
for sx, col in [(7.3, "#e2e2e2"), (704, "#cfcfcf")]:
    shapes.append(dict(type="line", xref="paper", yref="paper", x0=px(sx), x1=px(sx),
                       y0=py(8), y1=0, line=dict(color=col, width=1)))


def legend(box, sample_x0, sample_x1, text_x, row0, spacing, size):
    x0, y0, x1, y1 = box
    shapes.append(dict(type="rect", xref="paper", yref="paper", layer="above",
                       x0=px(x0), x1=px(x1), y0=py(y1), y1=py(y0),
                       fillcolor="rgba(255,255,255,0.8)",
                       line=dict(color="#cccccc", width=1)))
    for i, (lab, color, dash) in enumerate(zip(LABELS, COLORS, DASHES)):
        yy = row0 + i * spacing
        shapes.append(dict(type="line", xref="paper", yref="paper", layer="above",
                           x0=px(sample_x0), x1=px(sample_x1), y0=py(yy), y1=py(yy),
                           line=dict(color=color, width=1.5, dash=dash)))
        annotations.append(dict(
            x=px(text_x), y=py(yy), xref="paper", yref="paper", text=lab,
            showarrow=False, xanchor="left", yanchor="middle",
            font=dict(family=FONT, size=size, color="#1a1a1a")))


legend((251.7, 213.3, 338.3, 306.7), 254, 269.3, 273.5, 218.7, 10.16, 7)
legend((405.7, 44.3, 528.3, 176.7), 408.3, 430, 437, 52.7, 14.45, 9.8)
legend((761.7, 44.3, 885, 176.7), 765, 786.7, 793.5, 52.7, 14.45, 9.8)

fig.update_layout(shapes=shapes, annotations=annotations)

fig.write_html("out.html")
